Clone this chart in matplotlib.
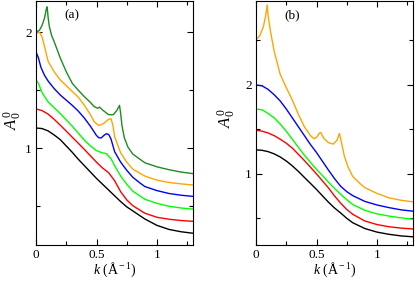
import matplotlib
matplotlib.use("Agg")
import matplotlib.pyplot as plt
from matplotlib.ticker import MultipleLocator

plt.rcParams['font.family'] = ['Liberation Serif', 'DejaVu Serif']
plt.rcParams['mathtext.fontset'] = 'custom'
plt.rcParams['mathtext.rm'] = 'Liberation Serif'
plt.rcParams['mathtext.it'] = 'Liberation Serif:italic'

# ---------------- Panel (a) ----------------
a_black_x = [0, 0.05, 0.1, 0.15, 0.2, 0.25, 0.3, 0.35, 0.4, 0.45, 0.5, 0.55, 0.6, 0.65, 0.7, 0.75, 0.8, 0.9, 1.0, 1.1, 1.2, 1.3]
a_black_y = [1.175, 1.17, 1.15, 1.115, 1.075, 1.02, 0.965, 0.905, 0.85, 0.795, 0.74, 0.69, 0.64, 0.59, 0.54, 0.495, 0.46, 0.39, 0.335, 0.3, 0.28, 0.267]

a_red_x = [0, 0.05, 0.1, 0.15, 0.2, 0.25, 0.3, 0.35, 0.4, 0.45, 0.5, 0.55, 0.6, 0.65, 0.7, 0.75, 0.8, 0.9, 1.0, 1.1, 1.2, 1.3]
a_red_y = [1.339, 1.325, 1.295, 1.25, 1.2, 1.148, 1.095, 1.043, 0.99, 0.935, 0.88, 0.83, 0.79, 0.72, 0.625, 0.555, 0.505, 0.44, 0.405, 0.388, 0.377, 0.37]

a_lime_x = [0, 0.02, 0.05, 0.1, 0.15, 0.2, 0.25, 0.3, 0.35, 0.4, 0.45, 0.5, 0.55, 0.58, 0.62, 0.65, 0.7, 0.75, 0.8, 0.9, 1.0, 1.1, 1.2, 1.3]
a_lime_y = [1.59, 1.56, 1.48, 1.40, 1.35, 1.30, 1.245, 1.19, 1.13, 1.07, 1.02, 0.98, 0.96, 0.955, 0.91, 0.85, 0.76, 0.69, 0.63, 0.56, 0.525, 0.5, 0.485, 0.475]

a_blue_x = [0, 0.02, 0.04, 0.07, 0.1, 0.15, 0.2, 0.25, 0.3, 0.35, 0.4, 0.45, 0.5, 0.52, 0.54, 0.56, 0.58, 0.6, 0.62, 0.65, 0.7, 0.75, 0.8, 0.86, 0.9, 1.0, 1.1, 1.2, 1.3]
a_blue_y = [1.83, 1.78, 1.70, 1.63, 1.58, 1.515, 1.46, 1.415, 1.37, 1.32, 1.26, 1.19, 1.11, 1.09, 1.09, 1.11, 1.125, 1.12, 1.08, 0.97, 0.88, 0.81, 0.75, 0.70, 0.67, 0.635, 0.61, 0.595, 0.585]

a_orange_x = [0, 0.02, 0.03, 0.05, 0.07, 0.1, 0.15, 0.2, 0.25, 0.3, 0.35, 0.4, 0.45, 0.48, 0.52, 0.56, 0.6, 0.62, 0.635, 0.65, 0.7, 0.75, 0.8, 0.9, 1.0, 1.1, 1.2, 1.3]
a_orange_y = [1.99, 2.0, 2.0, 1.96, 1.88, 1.75, 1.66, 1.59, 1.54, 1.49, 1.44, 1.37, 1.29, 1.23, 1.195, 1.215, 1.25, 1.255, 1.2, 1.10, 0.96, 0.88, 0.82, 0.76, 0.725, 0.705, 0.693, 0.683]

a_dgreen_x = [0, 0.03, 0.05, 0.07, 0.085, 0.092, 0.1, 0.11, 0.13, 0.15, 0.2, 0.25, 0.3, 0.35, 0.4, 0.45, 0.48, 0.51, 0.525, 0.55, 0.6, 0.64, 0.67, 0.69, 0.70, 0.71, 0.73, 0.76, 0.8, 0.9, 1.0, 1.1, 1.2, 1.3]
a_dgreen_y = [2.0, 2.02, 2.06, 2.12, 2.2, 2.22, 2.13, 2.05, 1.97, 1.92, 1.78, 1.66, 1.56, 1.5, 1.445, 1.395, 1.36, 1.345, 1.355, 1.33, 1.29, 1.29, 1.33, 1.37, 1.30, 1.2, 1.09, 1.01, 0.95, 0.875, 0.84, 0.815, 0.795, 0.781]

# ---------------- Panel (b) ----------------
b_black_x = [0, 0.05, 0.1, 0.15, 0.2, 0.25, 0.3, 0.35, 0.4, 0.45, 0.5, 0.55, 0.6, 0.65, 0.7, 0.75, 0.8, 0.9, 1.0, 1.1, 1.2, 1.3]
b_black_y = [1.27, 1.265, 1.25, 1.225, 1.19, 1.145, 1.09, 1.028, 0.96, 0.893, 0.825, 0.752, 0.68, 0.615, 0.56, 0.5, 0.45, 0.385, 0.345, 0.32, 0.302, 0.292]

b_red_x = [0, 0.05, 0.1, 0.15, 0.2, 0.25, 0.3, 0.35, 0.4, 0.45, 0.5, 0.55, 0.6, 0.65, 0.7, 0.75, 0.8, 0.9, 1.0, 1.1, 1.2, 1.3]
b_red_y = [1.49, 1.48, 1.46, 1.43, 1.39, 1.345, 1.29, 1.22, 1.15, 1.075, 1.0, 0.92, 0.84, 0.75, 0.67, 0.6, 0.545, 0.47, 0.43, 0.405, 0.39, 0.38]

b_lime_x = [0, 0.05, 0.1, 0.15, 0.2, 0.25, 0.3, 0.35, 0.4, 0.45, 0.5, 0.55, 0.6, 0.65, 0.7, 0.75, 0.8, 0.9, 1.0, 1.1, 1.2, 1.3]
b_lime_y = [1.73, 1.72, 1.68, 1.63, 1.56, 1.48, 1.39, 1.30, 1.21, 1.13, 1.05, 0.98, 0.905, 0.835, 0.77, 0.71, 0.655, 0.59, 0.55, 0.525, 0.505, 0.49]

b_blue_x = [0, 0.05, 0.1, 0.15, 0.2, 0.25, 0.3, 0.35, 0.4, 0.45, 0.5, 0.55, 0.6, 0.65, 0.7, 0.75, 0.8, 0.9, 1.0, 1.1, 1.2, 1.3]
b_blue_y = [2.0, 1.99, 1.95, 1.89, 1.82, 1.73, 1.63, 1.53, 1.43, 1.33, 1.24, 1.14, 1.04, 0.945, 0.86, 0.80, 0.755, 0.69, 0.65, 0.62, 0.595, 0.58]

b_orange_x = [0, 0.03, 0.06, 0.08, 0.092, 0.1, 0.12, 0.15, 0.2, 0.25, 0.3, 0.35, 0.4, 0.45, 0.48, 0.5, 0.525, 0.535, 0.56, 0.6, 0.64, 0.67, 0.69, 0.71, 0.73, 0.76, 0.8, 0.86, 0.9, 1.0, 1.1, 1.2, 1.3]
b_orange_y = [2.51, 2.55, 2.65, 2.78, 2.9, 2.78, 2.6, 2.38, 2.12, 1.97, 1.83, 1.67, 1.53, 1.43, 1.395, 1.41, 1.46, 1.465, 1.4, 1.35, 1.335, 1.38, 1.455, 1.33, 1.2, 1.08, 0.97, 0.89, 0.845, 0.78, 0.73, 0.703, 0.685]

C_BLACK = 'black'
C_RED = '#ff0000'
C_LIME = '#00ff00'
C_BLUE = '#0000ff'
C_ORANGE = '#ffa500'
C_DGREEN = '#1e8c1e'

W, H = 415, 282
fig = plt.figure(figsize=(W / 100, H / 100), dpi=100)

def px_axes(l, r, t, b):
    return fig.add_axes([l / W, 1 - b / H, (r - l) / W, (b - t) / H])

axa = px_axes(36, 193.3, 1, 245)
axb = px_axes(256, 413.3, 1, 245)

lw = 1.0
axa.plot(a_black_x, a_black_y, color=C_BLACK, lw=lw)
axa.plot(a_red_x, a_red_y, color=C_RED, lw=lw)
axa.plot(a_lime_x, a_lime_y, color=C_LIME, lw=lw)
axa.plot(a_blue_x, a_blue_y, color=C_BLUE, lw=lw)
axa.plot(a_orange_x, a_orange_y, color=C_ORANGE, lw=lw)
axa.plot(a_dgreen_x, a_dgreen_y, color=C_DGREEN, lw=lw)

axb.plot(b_black_x, b_black_y, color=C_BLACK, lw=lw)
axb.plot(b_red_x, b_red_y, color=C_RED, lw=lw)
axb.plot(b_lime_x, b_lime_y, color=C_LIME, lw=lw)
axb.plot(b_blue_x, b_blue_y, color=C_BLUE, lw=lw)
axb.plot(b_orange_x, b_orange_y, color=C_ORANGE, lw=lw)

axa.set_xlim(0, 1.3)
axa.set_ylim(0.166, 2.27)
axb.set_xlim(0, 1.3)
axb.set_ylim(0.2, 2.944)

for ax in (axa, axb):
    ax.xaxis.set_major_locator(MultipleLocator(0.5))
    ax.xaxis.set_minor_locator(MultipleLocator(0.25))
    ax.yaxis.set_major_locator(MultipleLocator(1))
    ax.yaxis.set_minor_locator(MultipleLocator(0.5))
    ax.set_xticks([0, 0.5, 1])
    ax.set_xticklabels(['0', '0.5', '1'])
    ax.tick_params(which='both', direction='in', top=True, right=True,
                   labelsize=9.5, width=0.8, pad=3)
    ax.tick_params(which='major', length=4.5)
    ax.tick_params(which='minor', length=3)
    for s in ax.spines.values():
        s.set_linewidth(0.8)
axa.set_yticks([1, 2])
axa.set_yticklabels(['1', '2'])
axb.set_yticks([1, 2])
axb.set_yticklabels(['1', '2'])

def ftext(x, y, s, **kw):
    fig.text(x / W, 1 - y / H, s, ha='center', va='center', **kw)

ftext(72, 15, '(a)', fontsize=9.5)
ftext(292, 15, '(b)', fontsize=9.5)
ftext(13, 120, r'$A^{0}_{0}$', fontsize=12, rotation=90)
ftext(227, 118, r'$A^{0}_{0}$', fontsize=12, rotation=90)
ftext(114.5, 270, r'$k$ (Å$^{\rm -1}$)', fontsize=10)
ftext(334.5, 270, r'$k$ (Å$^{\rm -1}$)', fontsize=10)

fig.savefig('out.png', dpi=100)
